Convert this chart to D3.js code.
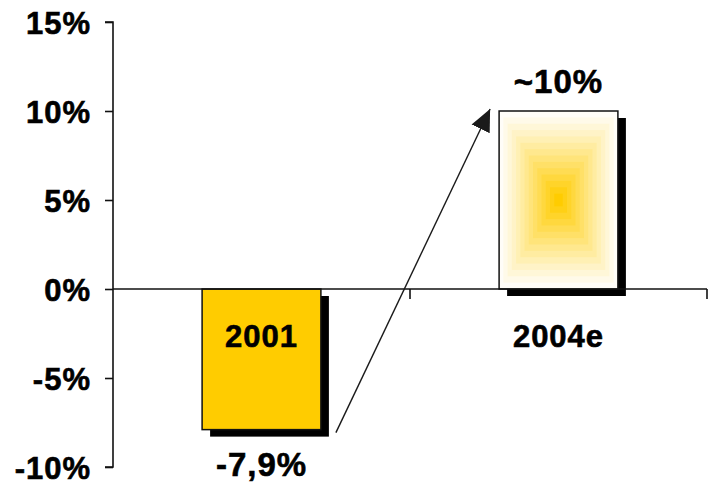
<!DOCTYPE html>
<html>
<head>
<meta charset="utf-8">
<script src="https://cdn.jsdelivr.net/npm/d3@7"></script>
<style>
  body { margin: 0; background: #fff; }
  text { font-family: "Liberation Sans", Arial, sans-serif; font-weight: bold; fill: #000; letter-spacing: 1px; stroke: #000; stroke-width: 0.6px; }
</style>
</head>
<body>
<div id="chart"></div>
<script>
// chart data
var categories = ["2001", "2004e"];
var values = [-7.9, 10];
var valueLabels = ["-7,9%", "~10%"];
var yTicks = [-10, -5, 0, 5, 10, 15];

var width = 709, height = 495;
var gold = "#FFCC00";

var svg = d3.select("#chart").append("svg")
    .attr("width", width)
    .attr("height", height);

var y = d3.scaleLinear().domain([-10, 15]).range([467, 22]);
var x = d3.scaleBand().domain(categories)
    .range([113, 707])
    .paddingInner(0.6)
    .paddingOuter(0.3);

var defs = svg.append("defs");
defs.append("marker")
    .attr("id", "arrow")
    .attr("markerUnits", "userSpaceOnUse")
    .attr("viewBox", "0 0 22 22")
    .attr("refX", 22).attr("refY", 11)
    .attr("markerWidth", 22).attr("markerHeight", 22)
    .attr("orient", "auto")
  .append("path")
    .attr("d", "M0,1 L22,11 L0,21 Z")
    .attr("fill", "#1a1a1a");

// y axis
var yAxis = d3.axisLeft(y)
    .tickValues(yTicks)
    .tickSize(8)
    .tickFormat(function(d) { return d + "%"; });

var ya = svg.append("g")
    .attr("transform", "translate(113,0)")
    .call(yAxis);
ya.select(".domain").attr("stroke", "#111").attr("stroke-width", 1.6)
    .attr("d", "M-8," + y(15) + "H0V" + y(-10) + "H-8");
ya.selectAll(".tick line").attr("stroke", "#111").attr("stroke-width", 1.6);
ya.selectAll(".tick text")
    .attr("x", -22)
    .attr("dy", "0.36em")
    .style("font-size", "31px")
    .style("font-family", "'Liberation Sans', Arial, sans-serif")
    .style("font-weight", "bold")
    .style("letter-spacing", "1px")
    .attr("fill", "#000");

// bars (shadow first)
var bars = svg.append("g");
bars.selectAll("rect.shadow")
    .data(values)
  .enter().append("rect")
    .attr("class", "shadow")
    .attr("x", function(d, i) { return x(categories[i]) + 8; })
    .attr("y", function(d) { return Math.min(y(d), y(0)) + 7; })
    .attr("width", x.bandwidth())
    .attr("height", function(d) { return Math.abs(y(d) - y(0)); })
    .attr("fill", "#000");

// first bar solid
bars.append("rect")
    .attr("x", x(categories[0]))
    .attr("y", y(0))
    .attr("width", x.bandwidth())
    .attr("height", y(values[0]) - y(0))
    .attr("fill", gold)
    .attr("stroke", "#111")
    .attr("stroke-width", 1.5);

// second bar: rectangular gradient from centre, drawn as stepped rings
var bx = x(categories[1]), bw = x.bandwidth();
var by = y(values[1]), bh = y(0) - y(values[1]);
var steps = 14;
var col = d3.interpolateRgb("#FFFDF8", gold);
for (var s = 0; s < steps; s++) {
    var f = 1 - s / steps;
    var t = Math.pow(s / (steps - 1), 1.1);
    bars.append("rect")
        .attr("x", bx + bw / 2 - bw * f / 2)
        .attr("y", by + bh / 2 - bh * f / 2)
        .attr("width", bw * f)
        .attr("height", bh * f)
        .attr("fill", col(t));
}
bars.append("rect")
    .attr("x", bx).attr("y", by)
    .attr("width", bw).attr("height", bh)
    .attr("fill", "none")
    .attr("stroke", "#111")
    .attr("stroke-width", 1.5);

// x axis at zero
var xa = svg.append("g");
xa.append("line")
    .attr("x1", 113).attr("x2", 707)
    .attr("y1", y(0)).attr("y2", y(0))
    .attr("stroke", "#111").attr("stroke-width", 1.6);
var bounds = [x(categories[1]) - x.step() * x.paddingInner() / 2, 707];
xa.selectAll("line.tick")
    .data(bounds)
  .enter().append("line")
    .attr("x1", function(d) { return d; }).attr("x2", function(d) { return d; })
    .attr("y1", y(0)).attr("y2", y(0) + 10)
    .attr("stroke", "#111").attr("stroke-width", 1.6);

// category labels
svg.selectAll("text.cat")
    .data(categories)
  .enter().append("text")
    .attr("class", "cat")
    .attr("x", function(d) { return x(d) + x.bandwidth() / 2; })
    .attr("y", y(0) + 58)
    .attr("text-anchor", "middle")
    .style("font-size", "31px")
    .text(function(d) { return d; });

// value labels
svg.selectAll("text.val")
    .data(values)
  .enter().append("text")
    .attr("class", "val")
    .attr("x", function(d, i) { return x(categories[i]) + x.bandwidth() / 2; })
    .attr("y", function(d) { return d < 0 ? y(d) + 46 : y(d) - 18; })
    .attr("text-anchor", "middle")
    .style("font-size", "33px")
    .text(function(d, i) { return valueLabels[i]; });

// arrow from first to second bar
svg.append("line")
    .attr("x1", x(categories[0]) + x.bandwidth() + 15)
    .attr("y1", y(values[0]) + 3)
    .attr("x2", x(categories[1]) - 9)
    .attr("y2", y(values[1]) - 2)
    .attr("stroke", "#1a1a1a")
    .attr("stroke-width", 1.4)
    .attr("marker-end", "url(#arrow)");
</script>
</body>
</html>
